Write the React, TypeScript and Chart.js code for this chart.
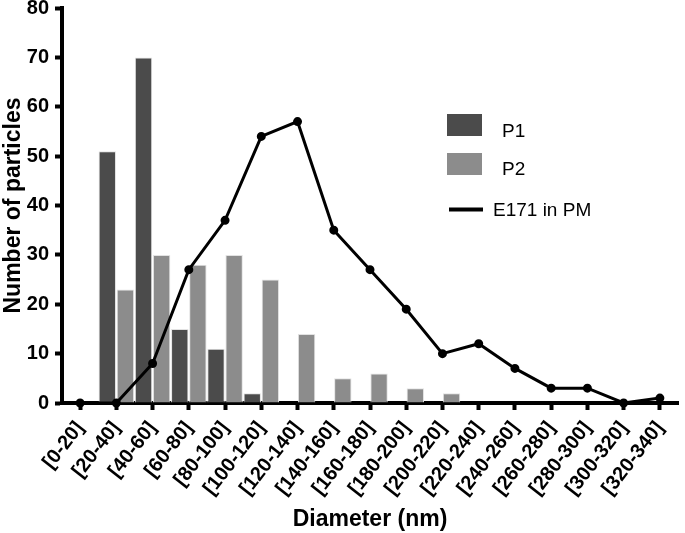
import React, { useEffect, useRef } from "react";
import { Chart, registerables } from "chart.js";

Chart.register(...registerables);

const categories = [
  "[0-20]", "[20-40]", "[40-60]", "[60-80]", "[80-100]", "[100-120]", "[120-140]",
  "[140-160]", "[160-180]", "[180-200]", "[200-220]", "[220-240]", "[240-260]",
  "[260-280]", "[280-300]", "[300-320]", "[320-340]",
];
const p1Values = [0, 51, 70, 15, 11, 2, 0, 0, 0, 0, 0, 0, 0, 0, 0, 0, 0];
const p2Values = [0, 23, 30, 28, 30, 25, 14, 5, 6, 3, 2, 0, 0, 0, 0, 0, 0];
const e171Values = [0, 0, 8, 27, 37, 54, 57, 35, 27, 19, 10, 12, 7, 3, 3, 0, 1];
const yMin = 0;
const yMax = 80;
const yStep = 10;

const FONT = "Arial, 'Liberation Sans', sans-serif";

const legendPlugin = {
  id: "customLegend",
  afterDraw(chart: any) {
    const ctx = chart.ctx;
    const ds = chart.data.datasets;
    ctx.save();
    ctx.font = `19px ${FONT}`;
    ctx.textBaseline = "middle";
    ctx.textAlign = "left";
    // P1
    ctx.fillStyle = ds[0].backgroundColor;
    ctx.fillRect(447, 114, 35, 22);
    ctx.fillStyle = "#000";
    ctx.fillText(ds[0].label, 502, 132);
    // P2
    ctx.fillStyle = ds[1].backgroundColor;
    ctx.fillRect(447, 153, 35, 22);
    ctx.fillStyle = "#000";
    ctx.fillText(ds[1].label, 502, 170);
    // Line
    ctx.strokeStyle = ds[2].borderColor;
    ctx.lineWidth = 4;
    ctx.beginPath();
    ctx.moveTo(449, 209.5);
    ctx.lineTo(483, 209.5);
    ctx.stroke();
    ctx.fillStyle = "#000";
    ctx.fillText(ds[2].label, 493, 211);
    ctx.restore();
  },
};

export default function App() {
  const canvasRef = useRef<HTMLCanvasElement | null>(null);

  useEffect(() => {
    if (!canvasRef.current) return;
    const chart = new Chart(canvasRef.current, {
      type: "bar",
      data: {
        labels: categories,
        datasets: [
          {
            label: "P1",
            data: p1Values,
            backgroundColor: "#4b4b4b",
            borderColor: "#e2e2e2",
            borderWidth: 1,
            categoryPercentage: 1.0,
            barPercentage: 0.96,
            order: 2,
          },
          {
            label: "P2",
            data: p2Values,
            backgroundColor: "#8c8c8c",
            borderColor: "#e2e2e2",
            borderWidth: 1,
            categoryPercentage: 1.0,
            barPercentage: 0.96,
            order: 2,
          },
          {
            type: "line",
            label: "E171 in PM",
            data: e171Values,
            borderColor: "#000",
            backgroundColor: "#000",
            borderWidth: 3,
            pointRadius: 3,
            pointBackgroundColor: "#000",
            pointBorderColor: "#000",
            tension: 0,
            order: 0,
            clip: false as any,
          } as any,
        ],
      },
      options: {
        animation: false,
        responsive: true,
        maintainAspectRatio: false,
        layout: { padding: { left: 0, right: 7, top: 0, bottom: 0 } },
        plugins: {
          legend: { display: false },
          tooltip: { enabled: false },
        },
        scales: {
          x: {
            offset: true,
            grid: {
              offset: false,
              drawOnChartArea: false,
              drawTicks: true,
              tickLength: 7,
              tickWidth: 4,
              tickColor: "#000",
            },
            border: { display: true, color: "#000", width: 4 },
            ticks: {
              minRotation: 52,
              maxRotation: 52,
              autoSkip: false,
              padding: 7,
              color: "#000",
              font: { family: FONT, size: 20, weight: "bold" },
            },
            title: {
              display: true,
              text: "Diameter (nm)",
              color: "#000",
              font: { family: FONT, size: 23, weight: "bold" },
              padding: { top: 0, bottom: 0 },
            },
            afterFit: (scale: any) => {
              scale.height = 130;
              scale.paddingLeft = 0;
              scale.paddingRight = 0;
            },
          },
          y: {
            min: yMin,
            max: yMax,
            grid: {
              drawOnChartArea: false,
              drawTicks: true,
              tickLength: 7,
              tickWidth: 4,
              tickColor: "#000",
            },
            border: { display: true, color: "#000", width: 4 },
            ticks: {
              stepSize: yStep,
              padding: 6,
              color: "#000",
              font: { family: FONT, size: 20, weight: "bold" },
            },
            title: {
              display: true,
              text: "Number of particles",
              color: "#000",
              font: { family: FONT, size: 23, weight: "bold" },
              padding: { top: 0, bottom: 0 },
            },
            afterFit: (scale: any) => {
              scale.width = 62;
              scale.paddingTop = 8;
            },
          },
        },
      },
      plugins: [legendPlugin],
    } as any);
    return () => chart.destroy();
  }, []);

  return (
    <div style={{ position: "fixed", left: 0, top: 0, width: 685, height: 533, background: "#fff" }}>
      <canvas ref={canvasRef} />
    </div>
  );
}
